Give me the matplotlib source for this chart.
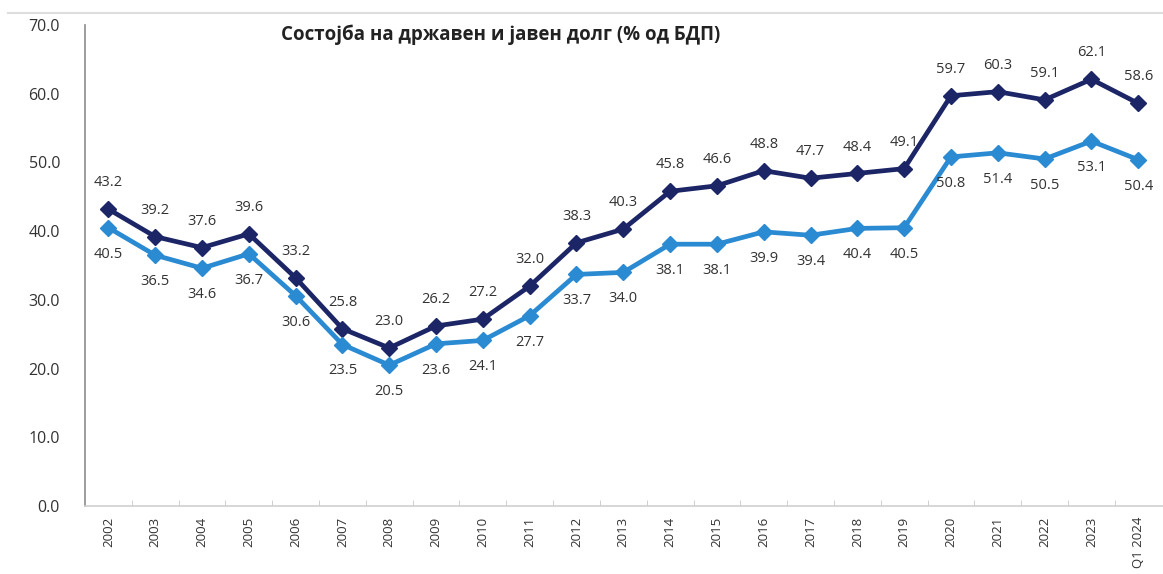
import matplotlib
matplotlib.use("Agg")
import matplotlib.pyplot as plt
from matplotlib.lines import Line2D
import numpy as np

plt.rcParams['font.family'] = ['Open Sans', 'DejaVu Sans']

categories = [str(y) for y in range(2002, 2024)] + ["Q1 2024"]
public_debt = [43.2, 39.2, 37.6, 39.6, 33.2, 25.8, 23.0, 26.2, 27.2, 32.0, 38.3, 40.3,
               45.8, 46.6, 48.8, 47.7, 48.4, 49.1, 59.7, 60.3, 59.1, 62.1, 58.6]
state_debt = [40.5, 36.5, 34.6, 36.7, 30.6, 23.5, 20.5, 23.6, 24.1, 27.7, 33.7, 34.0,
              38.1, 38.1, 39.9, 39.4, 40.4, 40.5, 50.8, 51.4, 50.5, 53.1, 50.4]
title = "Состојба на државен и јавен долг (% од БДП)"

W, H = 1163, 574
fig = plt.figure(figsize=(W/100, H/100), dpi=100)
ax = fig.add_axes([85/W, 1-506/H, (W-85)/W, (506-25)/H])

x = np.arange(len(categories))
dark = "#1c2566"
light = "#2a8ad2"
ax.plot(x, public_debt, color=dark, lw=3.4, marker="D", ms=8, zorder=3)
ax.plot(x, state_debt, color=light, lw=3.4, marker="D", ms=8, zorder=3)

for xi, v in zip(x, public_debt):
    ax.annotate(f"{v:.1f}", (xi, v), xytext=(0, 19), textcoords="offset points",
                ha="center", va="center", fontsize=10.5, color="#333333")
for xi, v in zip(x, state_debt):
    ax.annotate(f"{v:.1f}", (xi, v), xytext=(0, -19), textcoords="offset points",
                ha="center", va="center", fontsize=10.5, color="#333333")

ax.set_xlim(-0.5, 22.53)
ax.set_ylim(0, 70)
ax.set_yticks(np.arange(0, 71, 10))
ax.set_yticklabels([f"{t:.1f}" for t in np.arange(0, 71, 10)], fontsize=11.5, color="#333333")
ax.set_xticks(x)
ax.set_xticklabels(categories, rotation=90, fontsize=9.5, color="#333333")
ax.set_xticks(np.arange(0.5, len(categories) - 0.5, 1), minor=True)
ax.tick_params(axis="x", which="major", length=0, pad=8)
ax.tick_params(axis="x", which="minor", length=4, direction="in", color="#c8c8c8")
ax.tick_params(axis="y", length=0, pad=18)

for s in ["top", "right"]:
    ax.spines[s].set_visible(False)
ax.spines["left"].set_color("#8c8c8c")
ax.spines["bottom"].set_color("#d0d0d0")
ax.spines["left"].set_linewidth(1.2)
ax.spines["bottom"].set_linewidth(1.2)

fig.text(501/W, 1-35/H, title, ha="center", va="center", fontsize=13.5,
         fontweight="bold", color="#222222")
fig.add_artist(Line2D([8/W, 1], [1-13/H, 1-13/H], color="#dddddd", lw=1.5,
                      transform=fig.transFigure))

fig.savefig("out.png", dpi=100)
